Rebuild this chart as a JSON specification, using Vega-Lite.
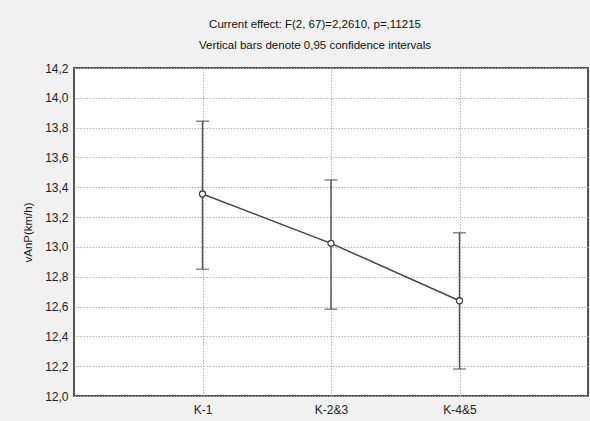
{
  "$schema": "https://vega.github.io/schema/vega-lite/v6.json",
  "width": 514,
  "height": 328,
  "autosize": "none",
  "padding": {"left": 74, "top": 68, "right": 2, "bottom": 25},
  "background": "#f1f1f1",
  "config": {
    "font": "Liberation Sans",
    "view": {"fill": "white", "stroke": "#555555", "strokeWidth": 2},
    "axis": {"domain": false, "grid": true, "gridColor": "#b5b5b5", "gridDash": [1.5, 1.5], "gridWidth": 1, "labelFont": "Liberation Sans", "labelFontSize": 12, "labelColor": "#222222", "ticks": false},
    "axisY": {"values": [12, 12.2, 12.4, 12.6, 12.8, 13, 13.2, 13.4, 13.6, 13.8, 14, 14.2], "labelOverlap": false, "labelExpr": "replace(format(datum.value, '.1f'), '.', ',')", "titleFont": "Liberation Sans", "titleFontSize": 11.5, "titleFontWeight": "normal", "titleColor": "#222222", "titlePadding": 11, "labelPadding": 6}
  },
  "title": {
    "text": ["Current effect: F(2, 67)=2,2610, p=,11215", "Vertical bars denote 0,95 confidence intervals"],
    "font": "Liberation Sans",
    "fontSize": 11.5,
    "fontWeight": "normal",
    "color": "#111111",
    "lineHeight": 21,
    "anchor": "middle",
    "dx": -16,
    "offset": 11
  },
  "data": {
    "values": [
      {"group": "K-1", "mean": 13.355, "lo": 12.85, "hi": 13.843},
      {"group": "K-2&3", "mean": 13.024, "lo": 12.582, "hi": 13.449},
      {"group": "K-4&5", "mean": 12.639, "lo": 12.181, "hi": 13.095}
    ]
  },
  "encoding": {
    "x": {
      "field": "group",
      "type": "nominal",
      "sort": null,
      "scale": {"type": "point", "padding": 1},
      "axis": {"title": null, "labelAngle": 0, "labelPadding": 8}
    }
  },
  "layer": [
    {
      "mark": {"type": "rule", "color": "#555555", "strokeWidth": 1.5},
      "encoding": {
        "y": {"field": "lo", "type": "quantitative", "scale": {"domain": [12, 14.2], "nice": false, "zero": false},
          "axis": {"values": [12, 12.2, 12.4, 12.6, 12.8, 13, 13.2, 13.4, 13.6, 13.8, 14, 14.2], "title": "vAnP(km/h)"}},
        "y2": {"field": "hi"}
      }
    },
    {
      "mark": {"type": "tick", "color": "#555555", "thickness": 1.5, "size": 13, "orient": "horizontal"},
      "encoding": {"y": {"field": "lo", "type": "quantitative", "axis": {"values": [12, 12.2, 12.4, 12.6, 12.8, 13, 13.2, 13.4, 13.6, 13.8, 14, 14.2], "title": "vAnP(km/h)"}}}
    },
    {
      "mark": {"type": "tick", "color": "#555555", "thickness": 1.5, "size": 13, "orient": "horizontal"},
      "encoding": {"y": {"field": "hi", "type": "quantitative", "axis": {"values": [12, 12.2, 12.4, 12.6, 12.8, 13, 13.2, 13.4, 13.6, 13.8, 14, 14.2], "title": "vAnP(km/h)"}}}
    },
    {
      "mark": {"type": "line", "color": "#444444", "strokeWidth": 1.5},
      "encoding": {"y": {"field": "mean", "type": "quantitative", "axis": {"values": [12, 12.2, 12.4, 12.6, 12.8, 13, 13.2, 13.4, 13.6, 13.8, 14, 14.2], "title": "vAnP(km/h)"}}}
    },
    {
      "mark": {"type": "point", "shape": "circle", "size": 36, "filled": false, "fill": "white", "fillOpacity": 1, "stroke": "#444444", "strokeWidth": 1.3, "opacity": 1},
      "encoding": {"y": {"field": "mean", "type": "quantitative", "axis": {"values": [12, 12.2, 12.4, 12.6, 12.8, 13, 13.2, 13.4, 13.6, 13.8, 14, 14.2], "title": "vAnP(km/h)"}}}
    }
  ]
}
